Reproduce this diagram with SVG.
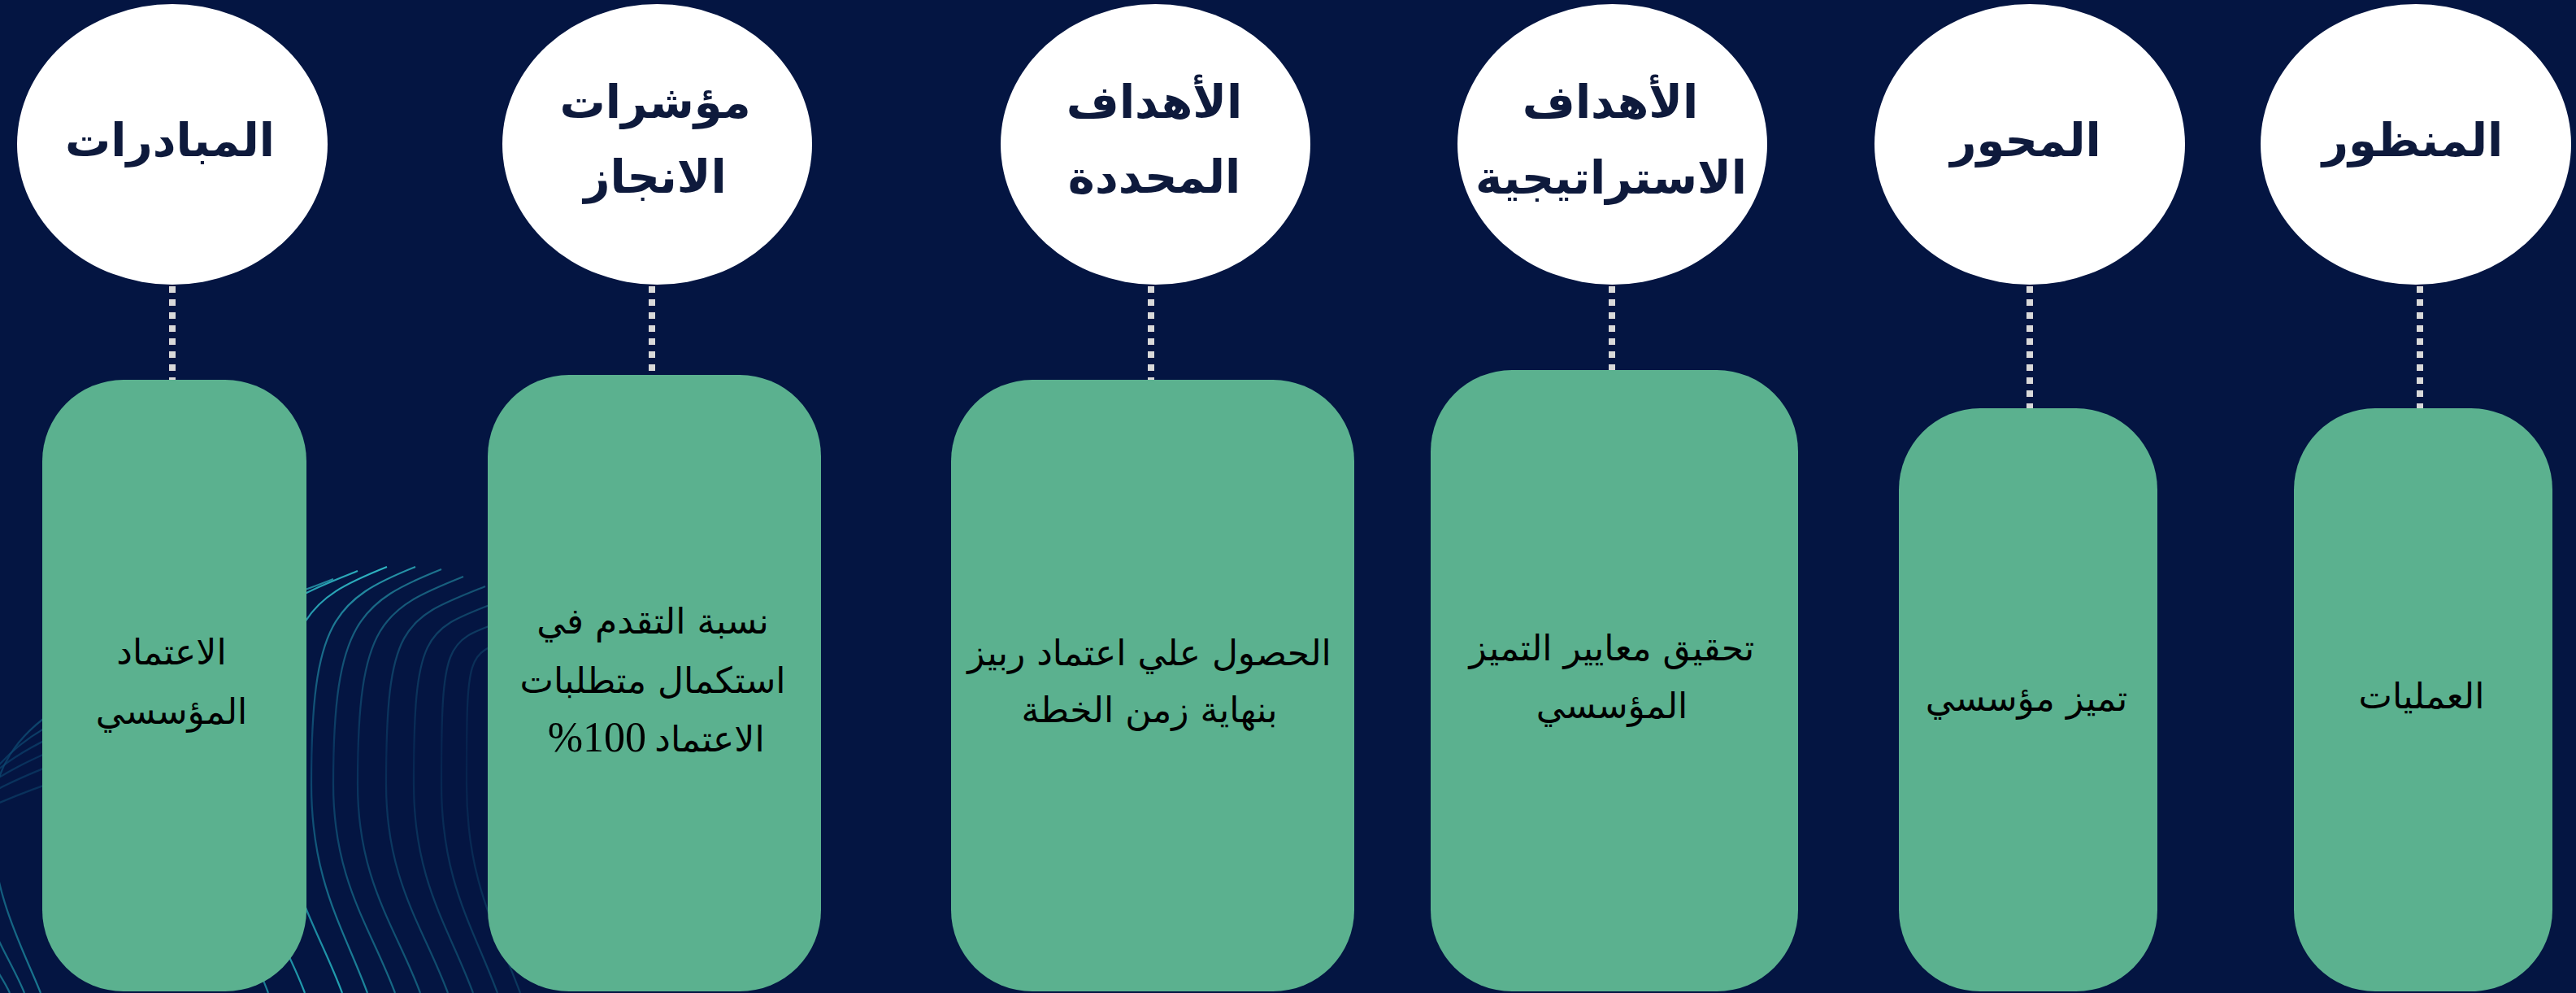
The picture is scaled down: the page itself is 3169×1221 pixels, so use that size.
<svg xmlns="http://www.w3.org/2000/svg" width="3169" height="1221" viewBox="0 0 3169 1221">
<defs>
<style>
.hd{fill:#ffffff}
.ht{font-family:"DejaVu Sans",sans-serif;font-weight:bold;font-size:56px;fill:#0E1A3C;text-anchor:middle;direction:rtl}
.bx{fill:#5BB18F}
.bt{font-family:"DejaVu Sans",sans-serif;font-size:44px;fill:#000000;text-anchor:middle;direction:rtl}
.num{font-family:"Liberation Serif",serif;font-size:52px;fill:#000000;text-anchor:end;direction:ltr}
.cn{stroke:#D9D9D9;stroke-width:8;stroke-dasharray:8 8;fill:none}
.dl{fill:none;stroke:url(#gl);stroke-width:2.2}
</style>
<linearGradient id="gl" gradientUnits="userSpaceOnUse" x1="0" y1="690" x2="0" y2="1221">
<stop offset="0" stop-color="#2FB8C4"/>
<stop offset="0.45" stop-color="#0C4670"/>
<stop offset="1" stop-color="#22A3B3"/>
</linearGradient>
</defs>
<rect x="0" y="0" width="3169" height="1221" fill="#041542"/>
<g id="decor">
<path class="dl" opacity="0.75" d="M410,712 C310,752 250,750 250,950 C250,1070 300,1140 330,1221"/>
<path class="dl" opacity="0.95" d="M440,702 C340,742 290,755 290,955 C290,1075 345,1140 375,1221"/>
<path class="dl" opacity="1" d="M476,697 C376,737 345,760 345,960 C345,1080 391,1140 421,1221"/>
<path class="dl" opacity="0.8" d="M511,697 C411,737 383,764 383,964 C383,1084 422,1140 452,1221"/>
<path class="dl" opacity="0.6" d="M543,700 C443,740 410,764 410,964 C410,1084 456,1140 486,1221"/>
<path class="dl" opacity="0.5" d="M570,709 C470,749 440,764 440,964 C440,1084 487,1140 517,1221"/>
<path class="dl" opacity="0.42" d="M597,721 C497,761 475,764 475,964 C475,1084 521,1140 551,1221"/>
<path class="dl" opacity="0.35" d="M625,735 C525,775 509,764 509,964 C509,1084 552,1140 582,1221"/>
<path class="dl" opacity="0.3" d="M650,752 C550,792 543,764 543,964 C543,1084 582,1140 612,1221"/>
<path class="dl" opacity="0.25" d="M675,772 C575,812 574,764 574,964 C574,1084 610,1140 640,1221"/>
<path class="dl" opacity="0.7" d="M250,800 C120,840 -10,880 -10,1010 C-10,1100 30,1170 50,1221"/>
<path class="dl" opacity="0.65" d="M250,820 C120,860 -35,905 -35,1030 C-35,1115 12,1175 30,1221"/>
<path class="dl" opacity="0.6" d="M250,840 C120,880 -60,930 -60,1050 C-60,1130 -6,1180 12,1221"/>
<path class="dl" opacity="0.55" d="M250,860 C120,900 -85,955 -85,1070 C-85,1145 -24,1185 -6,1221"/>
<path class="dl" opacity="0.5" d="M250,880 C120,920 -110,980 -110,1090 C-110,1160 -42,1190 -24,1221"/>
<path class="dl" opacity="0.45" d="M250,905 C120,945 -135,1005 -135,1110 C-135,1175 -60,1195 -42,1221"/>
</g>
<g id="connectors">
<line class="cn" x1="212" y1="352" x2="212" y2="467"/>
<line class="cn" x1="802" y1="352" x2="802" y2="461"/>
<line class="cn" x1="1416" y1="352" x2="1416" y2="467"/>
<line class="cn" x1="1983" y1="352" x2="1983" y2="455"/>
<line class="cn" x1="2497" y1="352" x2="2497" y2="502"/>
<line class="cn" x1="2977" y1="352" x2="2977" y2="502"/>
</g>
<g id="head-1"><ellipse class="hd" cx="212" cy="177.5" rx="191" ry="172.5"/><text class="ht" x="209" y="192">المبادرات</text></g>
<g id="head-2"><ellipse class="hd" cx="808.5" cy="177.5" rx="190.5" ry="172.5"/><text class="ht" x="806" y="145">مؤشرات</text><text class="ht" x="806" y="237">الانجاز</text></g>
<g id="head-3"><ellipse class="hd" cx="1421.5" cy="177.5" rx="190.5" ry="172.5"/><text class="ht" x="1420" y="145">الأهداف</text><text class="ht" x="1420" y="237">المحددة</text></g>
<g id="head-4"><ellipse class="hd" cx="1983.5" cy="177.5" rx="190.5" ry="172.5"/><text class="ht" x="1981" y="145">الأهداف</text><text class="ht" x="1982" y="238">الاستراتيجية</text></g>
<g id="head-5"><ellipse class="hd" cx="2497" cy="177.5" rx="191" ry="172.5"/><text class="ht" x="2492" y="192">المحور</text></g>
<g id="head-6"><ellipse class="hd" cx="2972" cy="177.5" rx="191" ry="172.5"/><text class="ht" x="2968" y="192">المنظور</text></g>
<g id="box-1"><rect class="bx" x="52" y="467" width="325" height="752" rx="100" ry="100"/><text class="bt" x="211" y="817">الاعتماد</text><text class="bt" x="211" y="890">المؤسسي</text></g>
<g id="box-2"><rect class="bx" x="600" y="461" width="410" height="758" rx="100" ry="100"/><text class="bt" x="803" y="779">نسبة التقدم في</text><text class="bt" x="803" y="852">استكمال متطلبات</text><text class="bt" x="873" y="924">الاعتماد</text><text class="num" x="795" y="924">%100</text></g>
<g id="box-3"><rect class="bx" x="1170" y="467" width="496" height="752" rx="100" ry="100"/><text class="bt" x="1414" y="818">الحصول علي اعتماد ربيز</text><text class="bt" x="1414" y="888">بنهاية زمن الخطة</text></g>
<g id="box-4"><rect class="bx" x="1760" y="455" width="452" height="764" rx="100" ry="100"/><text class="bt" x="1983" y="812">تحقيق معايير التميز</text><text class="bt" x="1983" y="883">المؤسسي</text></g>
<g id="box-5"><rect class="bx" x="2336" y="502" width="318" height="717" rx="100" ry="100"/><text class="bt" x="2493" y="874">تميز مؤسسي</text></g>
<g id="box-6"><rect class="bx" x="2822" y="502" width="318" height="717" rx="100" ry="100"/><text class="bt" x="2979" y="871">العمليات</text></g>
</svg>
